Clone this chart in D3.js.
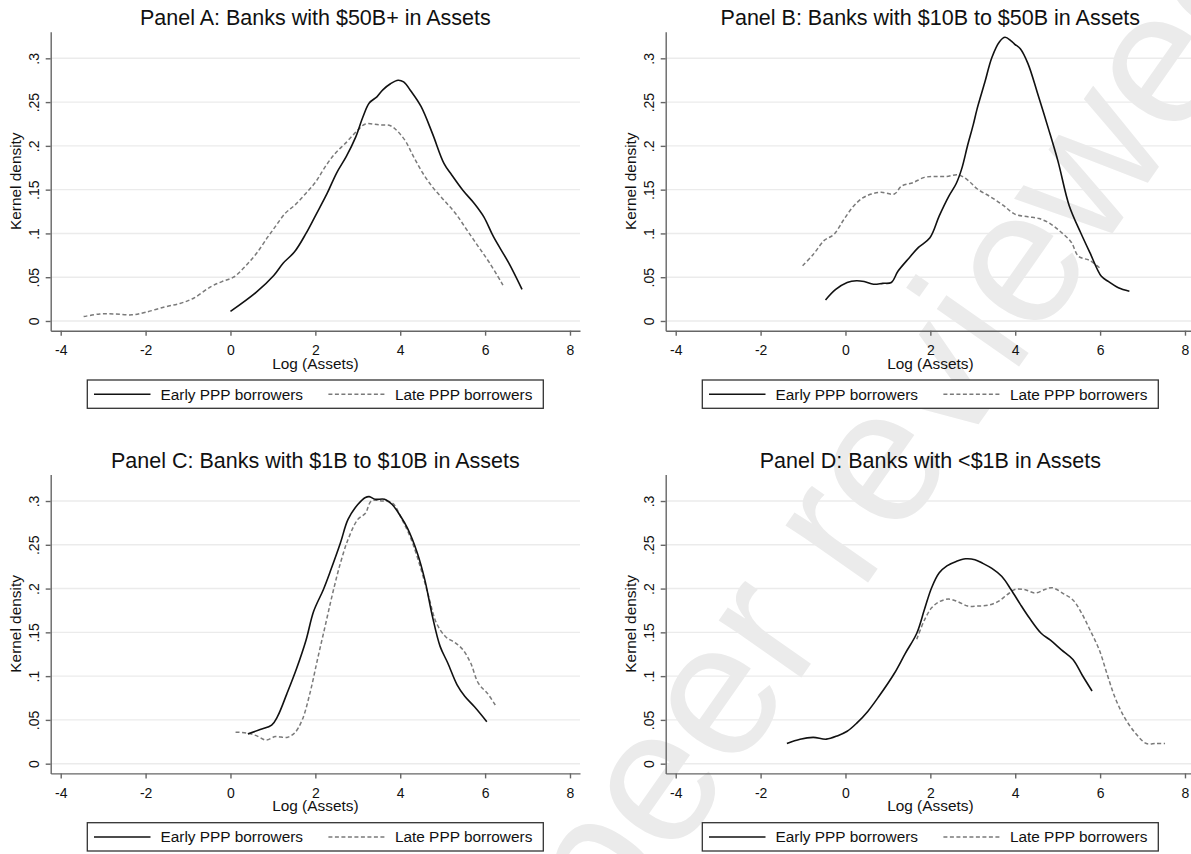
<!DOCTYPE html>
<html>
<head>
<meta charset="utf-8">
<script src="https://cdn.jsdelivr.net/npm/d3@7"></script>
<style>
    body { margin: 0; background: #fff; }
    text { font-family: "Liberation Sans", Arial, sans-serif; }
</style>
</head>
<body>
<div id="chart"></div>
<script>

// categories / labels
var panelTitles = [
    "Panel A: Banks with $50B+ in Assets",
    "Panel B: Banks with $10B to $50B in Assets",
    "Panel C: Banks with $1B to $10B in Assets",
    "Panel D: Banks with <$1B in Assets"
];
var seriesNames = ["Early PPP borrowers", "Late PPP borrowers"];
var xTicks = [-4, -2, 0, 2, 4, 6, 8];
var yTicks = [0, 0.05, 0.1, 0.15, 0.2, 0.25, 0.3];
var yTickLabels = ["0", ".05", ".1", ".15", ".2", ".25", ".3"];

// kernel density curves, [log(assets), density]
var earlyA = [[0.00,0.011],[0.61,0.033],[1.02,0.052],[1.24,0.066],[1.51,0.079],[1.78,0.100],[2.01,0.121],
    [2.28,0.146],[2.50,0.169],[2.73,0.188],[2.95,0.210],[3.12,0.233],[3.27,0.249],[3.45,0.256],[3.59,0.264],
    [3.77,0.271],[3.95,0.275],[4.08,0.273],[4.26,0.262],[4.49,0.245],[4.76,0.214],[5.03,0.180],[5.21,0.167],
    [5.48,0.149],[5.75,0.134],[5.97,0.119],[6.20,0.096],[6.56,0.066],[6.87,0.036]];
var lateA = [[-3.46,0.005],[-3.08,0.008],[-2.72,0.008],[-2.32,0.007],[-2.00,0.010],[-1.55,0.016],[-1.19,0.020],
    [-0.87,0.026],[-0.47,0.039],[-0.20,0.045],[0.07,0.050],[0.34,0.062],[0.61,0.077],[0.88,0.096],[1.06,0.108],
    [1.29,0.123],[1.51,0.132],[1.78,0.146],[2.01,0.159],[2.23,0.176],[2.46,0.191],[2.73,0.204],[3.00,0.218],
    [3.18,0.225],[3.50,0.224],[3.77,0.223],[3.95,0.216],[4.13,0.205],[4.31,0.188],[4.53,0.169],[4.76,0.153],
    [5.03,0.138],[5.30,0.123],[5.57,0.104],[5.84,0.085],[6.11,0.066],[6.42,0.041]];
var earlyB = [[-0.47,0.024],[-0.23,0.036],[0.04,0.044],[0.26,0.046],[0.44,0.045],[0.66,0.042],[0.88,0.043],
    [1.08,0.044],[1.24,0.057],[1.50,0.072],[1.72,0.084],[1.99,0.095],[2.21,0.120],[2.43,0.142],[2.61,0.157],
    [2.74,0.174],[2.88,0.201],[3.01,0.224],[3.10,0.242],[3.28,0.272],[3.45,0.301],[3.63,0.319],[3.76,0.324],
    [3.90,0.320],[3.99,0.316],[4.12,0.311],[4.30,0.294],[4.52,0.261],[4.78,0.220],[5.01,0.182],[5.27,0.132],
    [5.54,0.101],[5.76,0.078],[6.03,0.051],[6.20,0.045],[6.43,0.038],[6.69,0.034]];
var lateB = [[-1.01,0.063],[-0.76,0.076],[-0.50,0.092],[-0.27,0.099],[-0.05,0.115],[0.17,0.130],[0.39,0.140],
    [0.61,0.145],[0.84,0.147],[1.15,0.145],[1.32,0.154],[1.59,0.158],[1.86,0.164],[2.12,0.165],[2.39,0.165],
    [2.65,0.167],[2.88,0.161],[3.10,0.151],[3.41,0.142],[3.72,0.132],[3.99,0.122],[4.30,0.119],[4.56,0.117],
    [4.83,0.111],[5.09,0.101],[5.32,0.090],[5.49,0.074],[5.76,0.069],[6.03,0.059]];
var earlyC = [[0.41,0.034],[0.70,0.039],[0.97,0.044],[1.11,0.054],[1.33,0.080],[1.56,0.109],[1.78,0.141],
    [1.96,0.174],[2.19,0.199],[2.37,0.222],[2.59,0.252],[2.77,0.279],[3.00,0.296],[3.18,0.304],[3.27,0.305],
    [3.41,0.302],[3.63,0.302],[3.81,0.296],[3.99,0.284],[4.17,0.269],[4.40,0.241],[4.58,0.210],[4.76,0.168],
    [4.94,0.134],[5.12,0.115],[5.34,0.090],[5.52,0.077],[5.75,0.065],[6.04,0.048]];
var lateC = [[0.12,0.036],[0.39,0.035],[0.61,0.032],[0.84,0.027],[1.06,0.031],[1.33,0.030],[1.51,0.035],
    [1.69,0.050],[1.87,0.080],[2.05,0.119],[2.23,0.157],[2.41,0.195],[2.59,0.229],[2.77,0.256],[3.00,0.279],
    [3.18,0.286],[3.32,0.300],[3.59,0.300],[3.81,0.298],[4.04,0.279],[4.26,0.256],[4.49,0.222],[4.67,0.191],
    [4.85,0.161],[5.07,0.145],[5.30,0.138],[5.48,0.130],[5.66,0.115],[5.84,0.092],[6.06,0.080],[6.24,0.067]];
var earlyD = [[-1.38,0.023],[-1.07,0.028],[-0.76,0.030],[-0.45,0.028],[-0.18,0.032],[0.04,0.037],[0.26,0.046],
    [0.53,0.060],[0.79,0.077],[1.15,0.103],[1.41,0.126],[1.68,0.149],[1.86,0.176],[2.03,0.201],[2.21,0.218],
    [2.39,0.226],[2.61,0.231],[2.83,0.234],[3.05,0.233],[3.23,0.229],[3.45,0.223],[3.68,0.214],[3.90,0.199],
    [4.12,0.182],[4.34,0.166],[4.61,0.149],[4.83,0.141],[5.09,0.130],[5.36,0.119],[5.58,0.101],[5.81,0.083]];
var lateD = [[1.68,0.142],[1.86,0.164],[2.03,0.178],[2.21,0.185],[2.43,0.188],[2.65,0.185],[2.88,0.180],
    [3.10,0.180],[3.36,0.181],[3.59,0.185],[3.81,0.193],[3.99,0.199],[4.21,0.199],[4.47,0.195],[4.70,0.199],
    [4.87,0.201],[5.14,0.194],[5.36,0.187],[5.54,0.174],[5.76,0.153],[5.98,0.130],[6.16,0.103],[6.34,0.077],
    [6.56,0.054],[6.83,0.035],[7.09,0.023],[7.31,0.023],[7.53,0.023]];

var panelCurves = [[earlyA, lateA], [earlyB, lateB], [earlyC, lateC], [earlyD, lateD]];


var svg = d3.select("#chart").append("svg")
    .attr("width", 1191)
    .attr("height", 854)
    .style("display", "block");

svg.append("rect").attr("width", 1191).attr("height", 854).attr("fill", "#fff");

// watermark
svg.append("text")
    .attr("transform", "translate(612,948) rotate(-55)")
    .attr("font-size", 190)
    .attr("fill", "#ebebeb")
    .text("peer reviewed");


KernelPanel = function(_parent, _title, _curves, _dx, _dy) {
    this.parent = _parent;
    this.title = _title;
    this.curves = _curves;
    this.dx = _dx;
    this.dy = _dy;
    this.initVis();
};

KernelPanel.prototype.initVis = function() {
    var vis = this;

    vis.left = 50.7; vis.right = 580;
    vis.top = 31.7; vis.bottom = 330.7;

    vis.g = vis.parent.append("g")
        .attr("transform", "translate(" + vis.dx + "," + vis.dy + ")");

    var x = d3.scaleLinear().domain([-4.236, 8.236]).range([vis.left, vis.right]);
    var y = d3.scaleLinear().domain([-0.0111, 0.3304]).range([vis.bottom, vis.top]);

    // gridlines
    vis.g.selectAll(".grid")
        .data(yTicks)
        .enter().append("line")
        .attr("class", "grid")
        .attr("x1", vis.left)
        .attr("x2", vis.right)
        .attr("y1", function(d) { return y(d); })
        .attr("y2", function(d) { return y(d); })
        .attr("stroke", "#ebebeb")
        .attr("stroke-width", 1.4);

    // title
    vis.g.append("text")
        .attr("x", (vis.left + vis.right) / 2)
        .attr("y", 25)
        .attr("text-anchor", "middle")
        .attr("font-size", 21.5)
        .attr("fill", "#111")
        .text(vis.title);

    // curves
    var line = d3.line()
        .x(function(d) { return x(d[0]); })
        .y(function(d) { return y(d[1]); })
        .curve(d3.curveCatmullRom.alpha(0.5));

    vis.g.append("path")
        .datum(vis.curves[1])
        .attr("d", line)
        .attr("fill", "none")
        .attr("stroke", "#7a7a7a")
        .attr("stroke-width", 1.5)
        .attr("stroke-dasharray", "4,2.5");

    vis.g.append("path")
        .datum(vis.curves[0])
        .attr("d", line)
        .attr("fill", "none")
        .attr("stroke", "#111")
        .attr("stroke-width", 1.6);

    // y axis
    var yAxis = vis.g.append("g")
        .attr("transform", "translate(" + vis.left + ",0)")
        .call(d3.axisLeft(y)
            .tickValues(yTicks)
            .tickFormat(function(d, i) { return yTickLabels[i]; })
            .tickSize(5)
            .tickSizeOuter(0));
    yAxis.selectAll("text")
        .attr("transform", "rotate(-90)")
        .attr("text-anchor", "middle")
        .attr("x", 0)
        .attr("y", -12.2)
        .attr("dy", 0)
        .attr("font-size", 14)
        .attr("fill", "#111");

    // x axis
    var xAxis = vis.g.append("g")
        .attr("transform", "translate(0," + vis.bottom + ")")
        .call(d3.axisBottom(x)
            .tickValues(xTicks)
            .tickSize(5)
            .tickPadding(9.4)
            .tickSizeOuter(0));
    xAxis.selectAll("text")
        .attr("font-size", 14)
        .attr("fill", "#111")
        .text(function(d) { return d < 0 ? "-" + Math.abs(d) : d; });

    vis.g.selectAll(".domain, .tick line")
        .attr("stroke", "#666")
        .attr("stroke-width", 1.4);

    // axis titles
    vis.g.append("text")
        .attr("x", (vis.left + vis.right) / 2)
        .attr("y", 368.7)
        .attr("text-anchor", "middle")
        .attr("font-size", 15.4)
        .attr("fill", "#111")
        .text("Log (Assets)");

    vis.g.append("text")
        .attr("transform", "translate(21," + ((vis.top + vis.bottom) / 2) + ") rotate(-90)")
        .attr("text-anchor", "middle")
        .attr("font-size", 15.4)
        .attr("fill", "#111")
        .text("Kernel density");

    // legend
    var leg = vis.g.append("g");
    leg.append("rect")
        .attr("x", 87.3).attr("y", 380)
        .attr("width", 456).attr("height", 28.3)
        .attr("fill", "#fff")
        .attr("stroke", "#333")
        .attr("stroke-width", 1.3);

    var legX = [94, 328.4];
    leg.selectAll(".legline")
        .data(seriesNames)
        .enter().append("line")
        .attr("x1", function(d, i) { return legX[i]; })
        .attr("x2", function(d, i) { return legX[i] + 56.5; })
        .attr("y1", 394.3).attr("y2", 394.3)
        .attr("stroke", function(d, i) { return i === 0 ? "#111" : "#7a7a7a"; })
        .attr("stroke-width", 1.5)
        .attr("stroke-dasharray", function(d, i) { return i === 0 ? null : "4,2.5"; });

    leg.selectAll(".legtext")
        .data(seriesNames)
        .enter().append("text")
        .attr("x", function(d, i) { return legX[i] + 66.5; })
        .attr("y", 399.6)
        .attr("font-size", 15.4)
        .attr("fill", "#111")
        .text(function(d) { return d; });
};

var offsets = [[0, 0], [615, 0], [0, 442.7], [615, 442.7]];
for (var i = 0; i < panelTitles.length; i++) {
    new KernelPanel(svg, panelTitles[i], panelCurves[i], offsets[i][0], offsets[i][1]);
}

</script>
</body>
</html>
